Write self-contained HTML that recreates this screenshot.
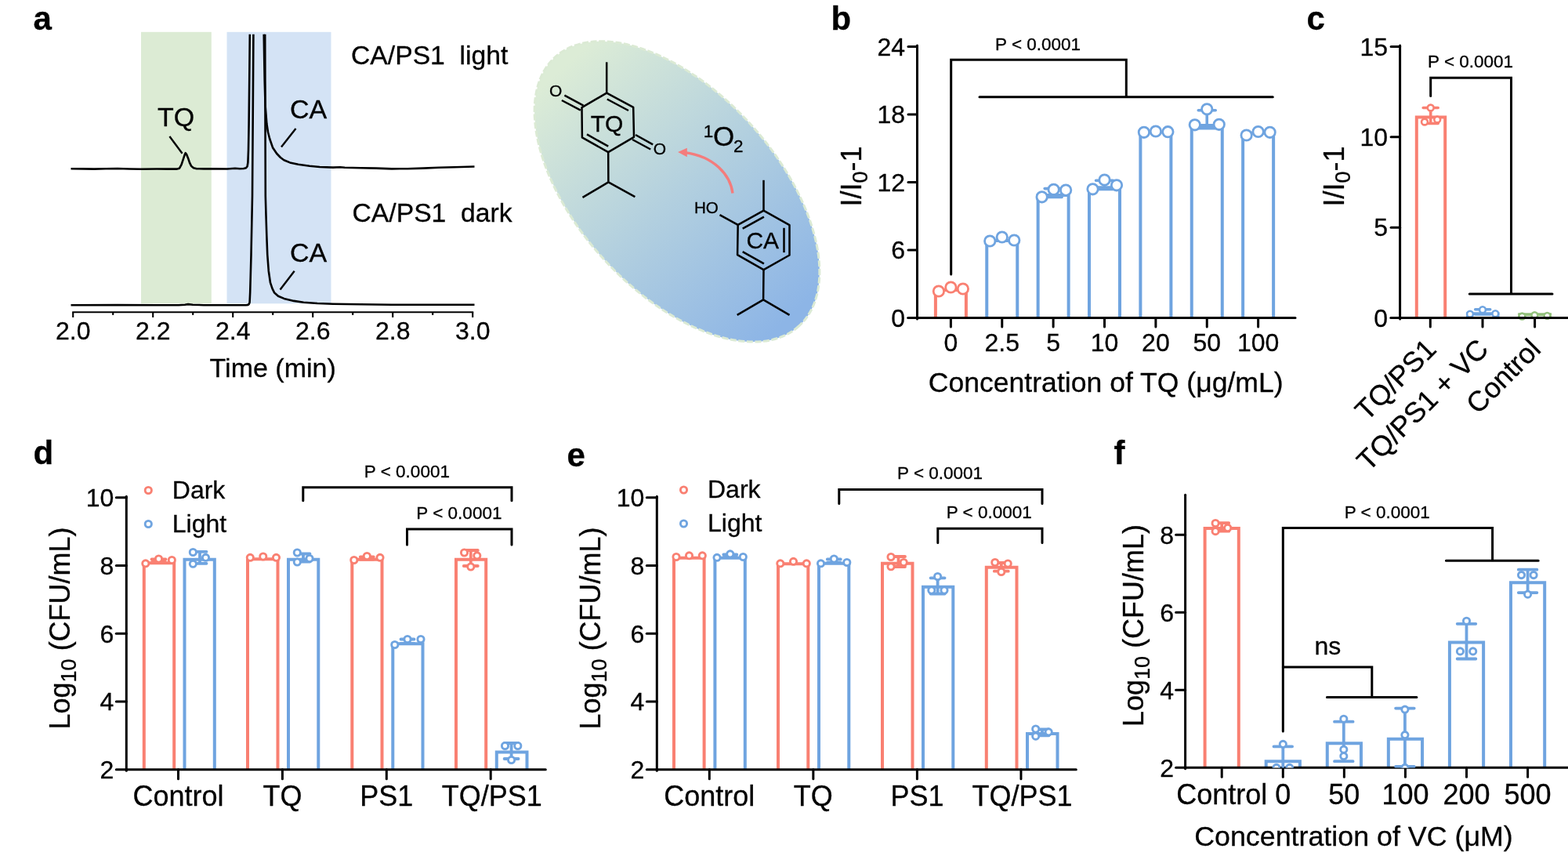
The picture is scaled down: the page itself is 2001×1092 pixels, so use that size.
<!DOCTYPE html>
<html lang="en"><head><meta charset="utf-8"><title>Figure</title>
<style>
html,body{margin:0;padding:0;background:#fff;}
body{width:2001px;height:1092px;overflow:hidden;}
svg{display:block;font-family:"Liberation Sans",Arial,Helvetica,sans-serif;}
text{fill:#000;stroke:#000;stroke-width:0.3px;}
</style></head>
<body>
<svg width="2001" height="1092" viewBox="0 0 2001 1092">
<defs>
<linearGradient id="eg" gradientUnits="userSpaceOnUse" x1="-215" y1="0" x2="215" y2="0">
<stop offset="0" stop-color="#dcecd6"/><stop offset="0.5" stop-color="#b3d0df"/><stop offset="1" stop-color="#8db5e6"/>
</linearGradient>
</defs>
<rect x="0" y="0" width="2001" height="1092" fill="#fff"/>
<g id="panel-a">
<rect x="180" y="40.8" width="89.8" height="346.5" fill="#dcebd4"/>
<rect x="289.5" y="40.8" width="133" height="346.5" fill="#d4e3f5"/>
<text x="42.5" y="38" font-size="42" text-anchor="start" font-weight="bold" >a</text>
<path d="M90.5 215.2 L105 215.4 L120 215.6 L135 215.2 L150 215 L165 215.5 L180 215.7 L200 215.5 L215 215.6 L226 215.6 L229 214.7 L231.5 210.2 L234 202.7 L235.8 197.2 L236.8 195.2 L238 196.7 L240 201.7 L242 207.7 L244 211.7 L247 214.2 L251 215.2 L260 215.4 L275 215.2 L290 215.5 L300 214.8 L306 215.2 L311 215 L314 214.2 L315.6 212.2 L316.4 207.2 L317 191.2 L317.6 158 L318.4 85 L318.8 43.7" stroke="#000" stroke-width="2.6" fill="none" stroke-linejoin="round" stroke-linecap="butt"/>
<path d="M336.7 43.7 L337.2 75 L337.7 103 L338.6 135 L340.4 158 L342 168.5 L344 176.5 L348 188.2 L353.2 196 L358 201 L362.4 204.2 L370 207.4 L380.7 209.7 L395 211.8 L408 213 L425 213.6 L434 213.2 L440 213.8 L460 214.2 L480 214.6 L500 215.4 L520 215.2 L540 214.6 L560 213.8 L580 213.2 L605.5 212.5" stroke="#000" stroke-width="2.6" fill="none" stroke-linejoin="round" stroke-linecap="butt"/>
<path d="M90.5 389.3 L150 389.1 L200 389.2 L228 389.2 L236 388.7 L240 388.1 L246 388.7 L260 389.2 L300 389.3 L314 389.2 L316.5 388.9 L317.8 387.9 L318.6 385.7 L319.2 372.7 L319.8 350.7 L320.5 325 L321.3 285 L322 250 L322.7 150 L323.4 43.7" stroke="#000" stroke-width="2.6" fill="none" stroke-linejoin="round" stroke-linecap="butt"/>
<path d="M338.2 43.7 L338.5 150 L338.8 250 L339.5 275 L340.3 300 L341.25 325 L342.8 345.7 L345 360.7 L347.5 368.2 L350 373.2 L355 377.7 L362.5 380.9 L375 383.9 L387.5 385.7 L405 387 L425 387.7 L460 388.3 L500 388.7 L550 388.8 L605.5 388.7" stroke="#000" stroke-width="2.6" fill="none" stroke-linejoin="round" stroke-linecap="butt"/>
<text x="201" y="161.3" font-size="34" text-anchor="start" font-weight="normal" >TQ</text>
<line x1="216.4" y1="174" x2="232.6" y2="195.7" stroke="#000" stroke-width="2.4" stroke-linecap="butt"/>
<text x="370" y="151" font-size="34" text-anchor="start" font-weight="normal" >CA</text>
<line x1="377.5" y1="164" x2="359" y2="187.5" stroke="#000" stroke-width="2.4" stroke-linecap="butt"/>
<text x="370" y="333.7" font-size="34" text-anchor="start" font-weight="normal" >CA</text>
<line x1="375.7" y1="345.7" x2="357.5" y2="369.5" stroke="#000" stroke-width="2.4" stroke-linecap="butt"/>
<text x="448" y="82" font-size="33.7" text-anchor="start" font-weight="normal" xml:space="preserve" style="white-space:pre">CA/PS1  light</text>
<text x="449.5" y="282.5" font-size="33.7" text-anchor="start" font-weight="normal" xml:space="preserve" style="white-space:pre">CA/PS1  dark</text>
<line x1="92.2" y1="398.3" x2="604.2" y2="398.3" stroke="#000" stroke-width="2.1" stroke-linecap="butt"/>
<line x1="93.2" y1="398.3" x2="93.2" y2="404.9" stroke="#000" stroke-width="2.1" stroke-linecap="butt"/>
<text x="93.2" y="433.4" font-size="32" text-anchor="middle" font-weight="normal" >2.0</text>
<line x1="144.2" y1="398.3" x2="144.2" y2="401.9" stroke="#000" stroke-width="2.1" stroke-linecap="butt"/>
<line x1="195.2" y1="398.3" x2="195.2" y2="404.9" stroke="#000" stroke-width="2.1" stroke-linecap="butt"/>
<text x="195.2" y="433.4" font-size="32" text-anchor="middle" font-weight="normal" >2.2</text>
<line x1="246.2" y1="398.3" x2="246.2" y2="401.9" stroke="#000" stroke-width="2.1" stroke-linecap="butt"/>
<line x1="297.2" y1="398.3" x2="297.2" y2="404.9" stroke="#000" stroke-width="2.1" stroke-linecap="butt"/>
<text x="297.2" y="433.4" font-size="32" text-anchor="middle" font-weight="normal" >2.4</text>
<line x1="348.2" y1="398.3" x2="348.2" y2="401.9" stroke="#000" stroke-width="2.1" stroke-linecap="butt"/>
<line x1="399.2" y1="398.3" x2="399.2" y2="404.9" stroke="#000" stroke-width="2.1" stroke-linecap="butt"/>
<text x="399.2" y="433.4" font-size="32" text-anchor="middle" font-weight="normal" >2.6</text>
<line x1="450.2" y1="398.3" x2="450.2" y2="401.9" stroke="#000" stroke-width="2.1" stroke-linecap="butt"/>
<line x1="501.2" y1="398.3" x2="501.2" y2="404.9" stroke="#000" stroke-width="2.1" stroke-linecap="butt"/>
<text x="501.2" y="433.4" font-size="32" text-anchor="middle" font-weight="normal" >2.8</text>
<line x1="552.2" y1="398.3" x2="552.2" y2="401.9" stroke="#000" stroke-width="2.1" stroke-linecap="butt"/>
<line x1="603.2" y1="398.3" x2="603.2" y2="404.9" stroke="#000" stroke-width="2.1" stroke-linecap="butt"/>
<text x="603.2" y="433.4" font-size="32" text-anchor="middle" font-weight="normal" >3.0</text>
<text x="348.2" y="480.9" font-size="34" text-anchor="middle" font-weight="normal" >Time (min)</text>
</g>
<g id="scheme">
<ellipse cx="0" cy="0" rx="231.6" ry="127.2" transform="translate(864 244.4) rotate(47.8)" fill="url(#eg)" stroke="#dbead4" stroke-width="3" stroke-dasharray="8 2.6"/>
<path d="M774.2 118.6 L808.2 136.9 L809 174.8 L776.2 194.1 L742.9 175.4 L742.5 137.1Z" stroke="#000" stroke-width="2.5" fill="none" stroke-linejoin="round"/>
<line x1="774.2" y1="118.6" x2="774.2" y2="79.3" stroke="#000" stroke-width="2.5" stroke-linecap="butt"/>
<line x1="774.8" y1="126.5" x2="802" y2="141" stroke="#000" stroke-width="2.5" stroke-linecap="butt"/>
<line x1="749" y1="171.4" x2="776.2" y2="186.7" stroke="#000" stroke-width="2.5" stroke-linecap="butt"/>
<path d="M776.2 194.1L776.4 232.4L743.5 251.9M776.4 232.4L810.4 251.1" stroke="#000" stroke-width="2.5" fill="none" stroke-linejoin="round"/>
<line x1="744.5" y1="134.7" x2="720.4" y2="121.6" stroke="#000" stroke-width="2.5" stroke-linecap="butt"/>
<line x1="740.9" y1="140.7" x2="716.9" y2="128" stroke="#000" stroke-width="2.5" stroke-linecap="butt"/>
<text x="709.1" y="123.2" font-size="21" text-anchor="middle" font-weight="normal" >O</text>
<line x1="811" y1="172" x2="833.2" y2="184.4" stroke="#000" stroke-width="2.5" stroke-linecap="butt"/>
<line x1="807" y1="178" x2="830.2" y2="190.5" stroke="#000" stroke-width="2.5" stroke-linecap="butt"/>
<text x="841.9" y="197.4" font-size="21" text-anchor="middle" font-weight="normal" >O</text>
<text x="774.5" y="168" font-size="30" text-anchor="middle" font-weight="normal" >TQ</text>
<path d="M935 246.5C932 223 911 199.3 874 194.6" stroke="#f47c7c" stroke-width="3.4" fill="none" stroke-linecap="butt"/>
<path d="M865.1 194.1L876.8 188.8L876.8 200.2Z" fill="#f47c7c"/>
<text x="897.8" y="175.2" font-size="22.5" text-anchor="start" font-weight="normal" >1</text>
<text x="910" y="186.3" font-size="35" text-anchor="start" font-weight="normal" >O</text>
<text x="936" y="194" font-size="22.5" text-anchor="start" font-weight="normal" >2</text>
<path d="M974.5 268.7 L1007.5 287.2 L1007.5 325.5 L974.5 344.2 L941.1 325.1 L941.7 286.8Z" stroke="#000" stroke-width="2.5" fill="none" stroke-linejoin="round"/>
<line x1="974.5" y1="268.7" x2="974.5" y2="229.8" stroke="#000" stroke-width="2.5" stroke-linecap="butt"/>
<line x1="947.7" y1="291.6" x2="974.9" y2="276.7" stroke="#000" stroke-width="2.5" stroke-linecap="butt"/>
<line x1="1000.5" y1="290.8" x2="1000.5" y2="322.1" stroke="#000" stroke-width="2.5" stroke-linecap="butt"/>
<line x1="947.7" y1="321.2" x2="974.9" y2="336.3" stroke="#000" stroke-width="2.5" stroke-linecap="butt"/>
<path d="M974.5 344.2L974.1 382.4L940.7 401.8M974.1 382.4L1007.5 401.8" stroke="#000" stroke-width="2.5" fill="none" stroke-linejoin="round"/>
<line x1="941.7" y1="286.8" x2="918.5" y2="274.1" stroke="#000" stroke-width="2.5" stroke-linecap="butt"/>
<text x="886" y="271.8" font-size="20.6" text-anchor="start" font-weight="normal" >HO</text>
<text x="973.3" y="316.6" font-size="30" text-anchor="middle" font-weight="normal" >CA</text>
</g>
<g id="panel-b">
<text x="1060.5" y="38" font-size="42" text-anchor="start" font-weight="bold" >b</text>
<path d="M1193.9 405.6V370H1232.9V405.6" stroke="#F98072" stroke-width="4" fill="none" stroke-linejoin="miter"/>
<circle cx="1197.9" cy="371.5" r="6.7" fill="#fff" stroke="#F98072" stroke-width="2.8"/>
<circle cx="1213.4" cy="366.5" r="6.7" fill="#fff" stroke="#F98072" stroke-width="2.8"/>
<circle cx="1228.9" cy="368.5" r="6.7" fill="#fff" stroke="#F98072" stroke-width="2.8"/>
<path d="M1259.27 405.6V307H1298.27V405.6" stroke="#6FA4E0" stroke-width="4" fill="none" stroke-linejoin="miter"/>
<circle cx="1263.27" cy="307.5" r="6.7" fill="#fff" stroke="#6FA4E0" stroke-width="2.8"/>
<circle cx="1278.77" cy="302.5" r="6.7" fill="#fff" stroke="#6FA4E0" stroke-width="2.8"/>
<circle cx="1294.27" cy="306.5" r="6.7" fill="#fff" stroke="#6FA4E0" stroke-width="2.8"/>
<path d="M1324.64 405.6V249H1363.64V405.6" stroke="#6FA4E0" stroke-width="4" fill="none" stroke-linejoin="miter"/>
<path d="M1333.14 240.6H1355.14M1333.14 251.5H1355.14M1344.14 240.6V251.5" stroke="#6FA4E0" stroke-width="3.6" fill="none" stroke-linecap="round"/>
<circle cx="1329.64" cy="251.3" r="6.7" fill="#fff" stroke="#6FA4E0" stroke-width="2.8"/>
<circle cx="1344.64" cy="241.8" r="6.7" fill="#fff" stroke="#6FA4E0" stroke-width="2.8"/>
<circle cx="1360.14" cy="242.6" r="6.7" fill="#fff" stroke="#6FA4E0" stroke-width="2.8"/>
<path d="M1390.01 405.6V239.3H1429.01V405.6" stroke="#6FA4E0" stroke-width="4" fill="none" stroke-linejoin="miter"/>
<path d="M1398.51 230.3H1420.51M1398.51 241.5H1420.51M1409.51 230.3V241.5" stroke="#6FA4E0" stroke-width="3.6" fill="none" stroke-linecap="round"/>
<circle cx="1394.51" cy="241.3" r="6.7" fill="#fff" stroke="#6FA4E0" stroke-width="2.8"/>
<circle cx="1409.51" cy="229.5" r="6.7" fill="#fff" stroke="#6FA4E0" stroke-width="2.8"/>
<circle cx="1425.01" cy="236.3" r="6.7" fill="#fff" stroke="#6FA4E0" stroke-width="2.8"/>
<path d="M1455.38 405.6V168.5H1494.38V405.6" stroke="#6FA4E0" stroke-width="4" fill="none" stroke-linejoin="miter"/>
<circle cx="1459.88" cy="168.8" r="6.7" fill="#fff" stroke="#6FA4E0" stroke-width="2.8"/>
<circle cx="1474.88" cy="167.5" r="6.7" fill="#fff" stroke="#6FA4E0" stroke-width="2.8"/>
<circle cx="1490.38" cy="168.2" r="6.7" fill="#fff" stroke="#6FA4E0" stroke-width="2.8"/>
<path d="M1520.75 405.6V160H1559.75V405.6" stroke="#6FA4E0" stroke-width="4" fill="none" stroke-linejoin="miter"/>
<path d="M1529.25 140.8H1551.25M1529.25 163.6H1551.25M1540.25 140.8V163.6" stroke="#6FA4E0" stroke-width="3.6" fill="none" stroke-linecap="round"/>
<circle cx="1524.75" cy="159.3" r="6.7" fill="#fff" stroke="#6FA4E0" stroke-width="2.8"/>
<circle cx="1540.25" cy="139.3" r="6.7" fill="#fff" stroke="#6FA4E0" stroke-width="2.8"/>
<circle cx="1555.75" cy="158.8" r="6.7" fill="#fff" stroke="#6FA4E0" stroke-width="2.8"/>
<path d="M1586.12 405.6V169.8H1625.12V405.6" stroke="#6FA4E0" stroke-width="4" fill="none" stroke-linejoin="miter"/>
<circle cx="1590.62" cy="172.5" r="6.7" fill="#fff" stroke="#6FA4E0" stroke-width="2.8"/>
<circle cx="1605.62" cy="168" r="6.7" fill="#fff" stroke="#6FA4E0" stroke-width="2.8"/>
<circle cx="1620.62" cy="168.8" r="6.7" fill="#fff" stroke="#6FA4E0" stroke-width="2.8"/>
<line x1="1170.5" y1="57.9" x2="1170.5" y2="407.1" stroke="#000" stroke-width="3" stroke-linecap="round"/>
<line x1="1158.7" y1="405.6" x2="1653" y2="405.6" stroke="#000" stroke-width="3" stroke-linecap="round"/>
<text x="1155" y="416.8" font-size="32" text-anchor="end" font-weight="normal" >0</text>
<line x1="1159" y1="319.05" x2="1170.5" y2="319.05" stroke="#000" stroke-width="3" stroke-linecap="round"/>
<text x="1155" y="330.25" font-size="32" text-anchor="end" font-weight="normal" >6</text>
<line x1="1159" y1="232.5" x2="1170.5" y2="232.5" stroke="#000" stroke-width="3" stroke-linecap="round"/>
<text x="1155" y="243.7" font-size="32" text-anchor="end" font-weight="normal" >12</text>
<line x1="1159" y1="145.95" x2="1170.5" y2="145.95" stroke="#000" stroke-width="3" stroke-linecap="round"/>
<text x="1155" y="157.15" font-size="32" text-anchor="end" font-weight="normal" >18</text>
<line x1="1159" y1="59.4" x2="1170.5" y2="59.4" stroke="#000" stroke-width="3" stroke-linecap="round"/>
<text x="1155" y="70.6" font-size="32" text-anchor="end" font-weight="normal" >24</text>
<line x1="1213.4" y1="405.6" x2="1213.4" y2="417.1" stroke="#000" stroke-width="3" stroke-linecap="round"/>
<text x="1213.4" y="448" font-size="32" text-anchor="middle" font-weight="normal" >0</text>
<line x1="1278.77" y1="405.6" x2="1278.77" y2="417.1" stroke="#000" stroke-width="3" stroke-linecap="round"/>
<text x="1278.77" y="448" font-size="32" text-anchor="middle" font-weight="normal" >2.5</text>
<line x1="1344.14" y1="405.6" x2="1344.14" y2="417.1" stroke="#000" stroke-width="3" stroke-linecap="round"/>
<text x="1344.14" y="448" font-size="32" text-anchor="middle" font-weight="normal" >5</text>
<line x1="1409.51" y1="405.6" x2="1409.51" y2="417.1" stroke="#000" stroke-width="3" stroke-linecap="round"/>
<text x="1409.51" y="448" font-size="32" text-anchor="middle" font-weight="normal" >10</text>
<line x1="1474.88" y1="405.6" x2="1474.88" y2="417.1" stroke="#000" stroke-width="3" stroke-linecap="round"/>
<text x="1474.88" y="448" font-size="32" text-anchor="middle" font-weight="normal" >20</text>
<line x1="1540.25" y1="405.6" x2="1540.25" y2="417.1" stroke="#000" stroke-width="3" stroke-linecap="round"/>
<text x="1540.25" y="448" font-size="32" text-anchor="middle" font-weight="normal" >50</text>
<line x1="1605.62" y1="405.6" x2="1605.62" y2="417.1" stroke="#000" stroke-width="3" stroke-linecap="round"/>
<text x="1605.62" y="448" font-size="32" text-anchor="middle" font-weight="normal" >100</text>
<text x="1411.2" y="499.8" font-size="35.6" text-anchor="middle" font-weight="normal" >Concentration of TQ (μg/mL)</text>
<text transform="translate(1099 263.6) rotate(-90)" font-size="36">I/I<tspan font-size="27" dy="8">0</tspan><tspan dy="-8">-1</tspan></text>
<path d="M1213.7 350V76.3H1437.3V123.8M1250 123.8H1624.3" stroke="#000" stroke-width="3" fill="none" stroke-linecap="round" stroke-linejoin="miter"/>
<text x="1324.6" y="64.2" font-size="22.5" text-anchor="middle" font-weight="normal" >P &lt; 0.0001</text>
</g>
<g id="panel-c">
<text x="1667.5" y="38" font-size="42" text-anchor="start" font-weight="bold" >c</text>
<path d="M1807.8 405.6V149.5H1844.2V405.6" stroke="#F98072" stroke-width="4" fill="none" stroke-linejoin="miter"/>
<path d="M1816.2 137.5H1835.2M1816.2 157.5H1835.2M1825.7 137.5V157.5" stroke="#F98072" stroke-width="3.6" fill="none" stroke-linecap="round"/>
<circle cx="1825.7" cy="137.5" r="3.9" fill="#fff" stroke="#F98072" stroke-width="2.6"/>
<circle cx="1818" cy="155.5" r="3.9" fill="#fff" stroke="#F98072" stroke-width="2.6"/>
<circle cx="1834.2" cy="152.5" r="3.9" fill="#fff" stroke="#F98072" stroke-width="2.6"/>
<path d="M1873 405.6V400.3H1911.5V405.6" stroke="#6FA4E0" stroke-width="4" fill="none" stroke-linejoin="miter"/>
<path d="M1882.7 394.8H1901.7M1882.7 401H1901.7M1892.2 394.8V401" stroke="#6FA4E0" stroke-width="3.6" fill="none" stroke-linecap="round"/>
<circle cx="1876" cy="400.7" r="3.9" fill="#fff" stroke="#6FA4E0" stroke-width="2.6"/>
<circle cx="1892" cy="395.2" r="3.9" fill="#fff" stroke="#6FA4E0" stroke-width="2.6"/>
<circle cx="1908.3" cy="400.2" r="3.9" fill="#fff" stroke="#6FA4E0" stroke-width="2.6"/>
<path d="M1939.2 405.6V401.3H1978V405.6" stroke="#93C17C" stroke-width="4" fill="none" stroke-linejoin="miter"/>
<circle cx="1942.4" cy="403.5" r="3.9" fill="#fff" stroke="#93C17C" stroke-width="2.6"/>
<circle cx="1958.4" cy="402.1" r="3.9" fill="#fff" stroke="#93C17C" stroke-width="2.6"/>
<circle cx="1974.5" cy="402.9" r="3.9" fill="#fff" stroke="#93C17C" stroke-width="2.6"/>
<line x1="1786.6" y1="57.9" x2="1786.6" y2="407.1" stroke="#000" stroke-width="3" stroke-linecap="round"/>
<line x1="1774.8" y1="405.6" x2="2003" y2="405.6" stroke="#000" stroke-width="3" stroke-linecap="round"/>
<text x="1771" y="416.8" font-size="32" text-anchor="end" font-weight="normal" >0</text>
<line x1="1775.1" y1="290.2" x2="1786.6" y2="290.2" stroke="#000" stroke-width="3" stroke-linecap="round"/>
<text x="1771" y="301.4" font-size="32" text-anchor="end" font-weight="normal" >5</text>
<line x1="1775.1" y1="174.8" x2="1786.6" y2="174.8" stroke="#000" stroke-width="3" stroke-linecap="round"/>
<text x="1771" y="186" font-size="32" text-anchor="end" font-weight="normal" >10</text>
<line x1="1775.1" y1="59.4" x2="1786.6" y2="59.4" stroke="#000" stroke-width="3" stroke-linecap="round"/>
<text x="1771" y="70.6" font-size="32" text-anchor="end" font-weight="normal" >15</text>
<line x1="1825.3" y1="405.6" x2="1825.3" y2="417.1" stroke="#000" stroke-width="3" stroke-linecap="round"/>
<line x1="1892" y1="405.6" x2="1892" y2="417.1" stroke="#000" stroke-width="3" stroke-linecap="round"/>
<line x1="1958.6" y1="405.6" x2="1958.6" y2="417.1" stroke="#000" stroke-width="3" stroke-linecap="round"/>
<text transform="translate(1715 263.6) rotate(-90)" font-size="36">I/I<tspan font-size="27" dy="8">0</tspan><tspan dy="-8">-1</tspan></text>
<path d="M1825.7 122.5V99.3H1928.5V375M1875.3 375H1981" stroke="#000" stroke-width="3" fill="none" stroke-linecap="round" stroke-linejoin="miter"/>
<text x="1876.6" y="86.2" font-size="22.5" text-anchor="middle" font-weight="normal" >P &lt; 0.0001</text>
<text transform="translate(1834.9 447.6) rotate(-45)" font-size="36" text-anchor="end" >TQ/PS1</text>
<text transform="translate(1901.5 447.6) rotate(-45)" font-size="36" text-anchor="end" >TQ/PS1 + VC</text>
<text transform="translate(1968.1 447.6) rotate(-45)" font-size="36" text-anchor="end" >Control</text>
</g>
<g id="panel-d">
<text x="42.5" y="592.3" font-size="42" text-anchor="start" font-weight="bold" >d</text>
<path d="M183.8 981.8V718.3H222.2V981.8" stroke="#F98072" stroke-width="4" fill="none" stroke-linejoin="miter"/>
<path d="M193.5 713.5H211.5M193.5 717.5H211.5M202.5 713.5V717.5" stroke="#F98072" stroke-width="3.8" fill="none" stroke-linecap="round"/>
<circle cx="185.8" cy="718.8" r="4.1" fill="#fff" stroke="#F98072" stroke-width="2.9"/>
<circle cx="202.5" cy="713" r="4.1" fill="#fff" stroke="#F98072" stroke-width="2.9"/>
<circle cx="219.3" cy="714.5" r="4.1" fill="#fff" stroke="#F98072" stroke-width="2.9"/>
<path d="M235.5 981.8V713.8H273.8V981.8" stroke="#6FA4E0" stroke-width="4" fill="none" stroke-linejoin="miter"/>
<path d="M246.5 703.8H263.5M246.5 718.8H263.5M255 703.8V718.8" stroke="#6FA4E0" stroke-width="3.8" fill="none" stroke-linecap="round"/>
<circle cx="246.3" cy="704.5" r="4.1" fill="#fff" stroke="#6FA4E0" stroke-width="2.9"/>
<circle cx="246.3" cy="719.3" r="4.1" fill="#fff" stroke="#6FA4E0" stroke-width="2.9"/>
<circle cx="262.5" cy="711.3" r="4.1" fill="#fff" stroke="#6FA4E0" stroke-width="2.9"/>
<path d="M316 981.8V713.3H354.5V981.8" stroke="#F98072" stroke-width="4" fill="none" stroke-linejoin="miter"/>
<circle cx="319.3" cy="711.3" r="4.1" fill="#fff" stroke="#F98072" stroke-width="2.9"/>
<circle cx="335.8" cy="710" r="4.1" fill="#fff" stroke="#F98072" stroke-width="2.9"/>
<circle cx="352.5" cy="711.3" r="4.1" fill="#fff" stroke="#F98072" stroke-width="2.9"/>
<path d="M368 981.8V713.8H406.3V981.8" stroke="#6FA4E0" stroke-width="4" fill="none" stroke-linejoin="miter"/>
<path d="M378.5 706.5H395.5M378.5 716.5H395.5M387 706.5V716.5" stroke="#6FA4E0" stroke-width="3.8" fill="none" stroke-linecap="round"/>
<circle cx="379.3" cy="705" r="4.1" fill="#fff" stroke="#6FA4E0" stroke-width="2.9"/>
<circle cx="379.3" cy="717" r="4.1" fill="#fff" stroke="#6FA4E0" stroke-width="2.9"/>
<circle cx="395" cy="712.5" r="4.1" fill="#fff" stroke="#6FA4E0" stroke-width="2.9"/>
<path d="M449.3 981.8V713.8H487.5V981.8" stroke="#F98072" stroke-width="4" fill="none" stroke-linejoin="miter"/>
<path d="M459.8 710.5H476.8M459.8 713.5H476.8M468.3 710.5V713.5" stroke="#F98072" stroke-width="3.8" fill="none" stroke-linecap="round"/>
<circle cx="451.8" cy="714.5" r="4.1" fill="#fff" stroke="#F98072" stroke-width="2.9"/>
<circle cx="468.3" cy="709.5" r="4.1" fill="#fff" stroke="#F98072" stroke-width="2.9"/>
<circle cx="485" cy="711.3" r="4.1" fill="#fff" stroke="#F98072" stroke-width="2.9"/>
<path d="M501.3 981.8V821.3H539.5V981.8" stroke="#6FA4E0" stroke-width="4" fill="none" stroke-linejoin="miter"/>
<path d="M511.5 815.5H528.5M511.5 821H528.5M520 815.5V821" stroke="#6FA4E0" stroke-width="3.8" fill="none" stroke-linecap="round"/>
<circle cx="503.8" cy="822.5" r="4.1" fill="#fff" stroke="#6FA4E0" stroke-width="2.9"/>
<circle cx="520" cy="815.5" r="4.1" fill="#fff" stroke="#6FA4E0" stroke-width="2.9"/>
<circle cx="537" cy="815.5" r="4.1" fill="#fff" stroke="#6FA4E0" stroke-width="2.9"/>
<path d="M582 981.8V713.8H620.2V981.8" stroke="#F98072" stroke-width="4" fill="none" stroke-linejoin="miter"/>
<path d="M591.8 702H609.8M591.8 722H609.8M600.8 702V722" stroke="#F98072" stroke-width="3.8" fill="none" stroke-linecap="round"/>
<circle cx="592.5" cy="705" r="4.1" fill="#fff" stroke="#F98072" stroke-width="2.9"/>
<circle cx="608.8" cy="708.8" r="4.1" fill="#fff" stroke="#F98072" stroke-width="2.9"/>
<circle cx="600.8" cy="723" r="4.1" fill="#fff" stroke="#F98072" stroke-width="2.9"/>
<path d="M633.8 981.8V959.4H672.5V981.8" stroke="#6FA4E0" stroke-width="4" fill="none" stroke-linejoin="miter"/>
<path d="M643.6 948H661.6M643.6 968H661.6M652.6 948V968" stroke="#6FA4E0" stroke-width="3.8" fill="none" stroke-linecap="round"/>
<circle cx="644.5" cy="951.5" r="4.1" fill="#fff" stroke="#6FA4E0" stroke-width="2.9"/>
<circle cx="660.8" cy="951.5" r="4.1" fill="#fff" stroke="#6FA4E0" stroke-width="2.9"/>
<circle cx="652.6" cy="969.5" r="4.1" fill="#fff" stroke="#6FA4E0" stroke-width="2.9"/>
<line x1="161.3" y1="633.3" x2="161.3" y2="983.3" stroke="#000" stroke-width="3" stroke-linecap="round"/>
<line x1="148.3" y1="981.8" x2="696.3" y2="981.8" stroke="#000" stroke-width="3" stroke-linecap="round"/>
<text x="145.3" y="993" font-size="32" text-anchor="end" font-weight="normal" >2</text>
<line x1="148.3" y1="895.06" x2="161.3" y2="895.06" stroke="#000" stroke-width="3" stroke-linecap="round"/>
<text x="145.3" y="906.26" font-size="32" text-anchor="end" font-weight="normal" >4</text>
<line x1="148.3" y1="808.32" x2="161.3" y2="808.32" stroke="#000" stroke-width="3" stroke-linecap="round"/>
<text x="145.3" y="819.52" font-size="32" text-anchor="end" font-weight="normal" >6</text>
<line x1="148.3" y1="721.58" x2="161.3" y2="721.58" stroke="#000" stroke-width="3" stroke-linecap="round"/>
<text x="145.3" y="732.78" font-size="32" text-anchor="end" font-weight="normal" >8</text>
<line x1="148.3" y1="634.84" x2="161.3" y2="634.84" stroke="#000" stroke-width="3" stroke-linecap="round"/>
<text x="145.3" y="646.04" font-size="32" text-anchor="end" font-weight="normal" >10</text>
<line x1="227.5" y1="981.8" x2="227.5" y2="993.8" stroke="#000" stroke-width="3" stroke-linecap="round"/>
<text x="227.5" y="1027.8" font-size="36" text-anchor="middle" font-weight="normal" >Control</text>
<line x1="360.4" y1="981.8" x2="360.4" y2="993.8" stroke="#000" stroke-width="3" stroke-linecap="round"/>
<text x="360.4" y="1027.8" font-size="36" text-anchor="middle" font-weight="normal" >TQ</text>
<line x1="493.3" y1="981.8" x2="493.3" y2="993.8" stroke="#000" stroke-width="3" stroke-linecap="round"/>
<text x="493.3" y="1027.8" font-size="36" text-anchor="middle" font-weight="normal" >PS1</text>
<line x1="626.2" y1="981.8" x2="626.2" y2="993.8" stroke="#000" stroke-width="3" stroke-linecap="round"/>
<text x="627.7" y="1027.8" font-size="36" text-anchor="middle" font-weight="normal" >TQ/PS1</text>
<text transform="translate(89.3 930.5) rotate(-90)" font-size="36">Log<tspan font-size="27" dy="8">10</tspan><tspan dy="-8"> (CFU/mL)</tspan></text>
<circle cx="189.3" cy="625.5" r="4.1" fill="#fff" stroke="#F98072" stroke-width="2.9"/>
<circle cx="189.3" cy="668.5" r="4.1" fill="#fff" stroke="#6FA4E0" stroke-width="2.9"/>
<text x="219.8" y="635.8" font-size="32" text-anchor="start" font-weight="normal" >Dark</text>
<text x="219.8" y="678.7" font-size="32" text-anchor="start" font-weight="normal" >Light</text>
<path d="M386.8 638.8V621.8H653V638.8" stroke="#000" stroke-width="3" fill="none" stroke-linecap="round"/>
<path d="M519.5 695V675H653V695" stroke="#000" stroke-width="3" fill="none" stroke-linecap="round"/>
<text x="519.4" y="608.5" font-size="22.5" text-anchor="middle" font-weight="normal" >P &lt; 0.0001</text>
<text x="585.9" y="662" font-size="22.5" text-anchor="middle" font-weight="normal" >P &lt; 0.0001</text>
</g>
<g id="panel-e">
<text x="723.5" y="595.2" font-size="42" text-anchor="start" font-weight="bold" >e</text>
<path d="M860 981.8V711.8H898.6V981.8" stroke="#F98072" stroke-width="4" fill="none" stroke-linejoin="miter"/>
<circle cx="863" cy="710.5" r="4.1" fill="#fff" stroke="#F98072" stroke-width="2.9"/>
<circle cx="879.5" cy="708.8" r="4.1" fill="#fff" stroke="#F98072" stroke-width="2.9"/>
<circle cx="896.3" cy="708.8" r="4.1" fill="#fff" stroke="#F98072" stroke-width="2.9"/>
<path d="M912.4 981.8V711.8H950.8V981.8" stroke="#6FA4E0" stroke-width="4" fill="none" stroke-linejoin="miter"/>
<path d="M923.3 707.5H940.3M923.3 711H940.3M931.8 707.5V711" stroke="#6FA4E0" stroke-width="3.8" fill="none" stroke-linecap="round"/>
<circle cx="915" cy="711.3" r="4.1" fill="#fff" stroke="#6FA4E0" stroke-width="2.9"/>
<circle cx="931.8" cy="706.8" r="4.1" fill="#fff" stroke="#6FA4E0" stroke-width="2.9"/>
<circle cx="948.3" cy="710.5" r="4.1" fill="#fff" stroke="#6FA4E0" stroke-width="2.9"/>
<path d="M993 981.8V719.3H1031.3V981.8" stroke="#F98072" stroke-width="4" fill="none" stroke-linejoin="miter"/>
<circle cx="995.8" cy="718.8" r="4.1" fill="#fff" stroke="#F98072" stroke-width="2.9"/>
<circle cx="1012.5" cy="716.3" r="4.1" fill="#fff" stroke="#F98072" stroke-width="2.9"/>
<circle cx="1029.3" cy="718.8" r="4.1" fill="#fff" stroke="#F98072" stroke-width="2.9"/>
<path d="M1045 981.8V718.8H1083.3V981.8" stroke="#6FA4E0" stroke-width="4" fill="none" stroke-linejoin="miter"/>
<path d="M1055.8 713.5H1072.8M1055.8 718H1072.8M1064.3 713.5V718" stroke="#6FA4E0" stroke-width="3.8" fill="none" stroke-linecap="round"/>
<circle cx="1047.5" cy="718.8" r="4.1" fill="#fff" stroke="#6FA4E0" stroke-width="2.9"/>
<circle cx="1064.3" cy="713" r="4.1" fill="#fff" stroke="#6FA4E0" stroke-width="2.9"/>
<circle cx="1080.8" cy="717.5" r="4.1" fill="#fff" stroke="#6FA4E0" stroke-width="2.9"/>
<path d="M1126 981.8V718.8H1164.5V981.8" stroke="#F98072" stroke-width="4" fill="none" stroke-linejoin="miter"/>
<path d="M1138 710H1155M1138 723H1155M1146.5 710V723" stroke="#F98072" stroke-width="3.8" fill="none" stroke-linecap="round"/>
<circle cx="1137" cy="710.5" r="4.1" fill="#fff" stroke="#F98072" stroke-width="2.9"/>
<circle cx="1137" cy="722.8" r="4.1" fill="#fff" stroke="#F98072" stroke-width="2.9"/>
<circle cx="1153.2" cy="717.5" r="4.1" fill="#fff" stroke="#F98072" stroke-width="2.9"/>
<path d="M1178 981.8V748.8H1216.3V981.8" stroke="#6FA4E0" stroke-width="4" fill="none" stroke-linejoin="miter"/>
<path d="M1187.6 737.3H1205.6M1187.6 757.5H1205.6M1196.6 737.3V757.5" stroke="#6FA4E0" stroke-width="3.8" fill="none" stroke-linecap="round"/>
<circle cx="1196.6" cy="735.5" r="4.1" fill="#fff" stroke="#6FA4E0" stroke-width="2.9"/>
<circle cx="1188.8" cy="753" r="4.1" fill="#fff" stroke="#6FA4E0" stroke-width="2.9"/>
<circle cx="1205" cy="753" r="4.1" fill="#fff" stroke="#6FA4E0" stroke-width="2.9"/>
<path d="M1258.8 981.8V723.8H1297.5V981.8" stroke="#F98072" stroke-width="4" fill="none" stroke-linejoin="miter"/>
<path d="M1268.8 718H1286.8M1268.8 728.7H1286.8M1277.8 718V728.7" stroke="#F98072" stroke-width="3.8" fill="none" stroke-linecap="round"/>
<circle cx="1269.8" cy="717.5" r="4.1" fill="#fff" stroke="#F98072" stroke-width="2.9"/>
<circle cx="1286.2" cy="719" r="4.1" fill="#fff" stroke="#F98072" stroke-width="2.9"/>
<circle cx="1277.8" cy="729.5" r="4.1" fill="#fff" stroke="#F98072" stroke-width="2.9"/>
<path d="M1311 981.8V936H1349.5V981.8" stroke="#6FA4E0" stroke-width="4" fill="none" stroke-linejoin="miter"/>
<path d="M1321.5 930.5H1338.5M1321.5 938.3H1338.5M1330 930.5V938.3" stroke="#6FA4E0" stroke-width="3.8" fill="none" stroke-linecap="round"/>
<circle cx="1321.7" cy="930" r="4.1" fill="#fff" stroke="#6FA4E0" stroke-width="2.9"/>
<circle cx="1321.7" cy="939.2" r="4.1" fill="#fff" stroke="#6FA4E0" stroke-width="2.9"/>
<circle cx="1338.2" cy="933.8" r="4.1" fill="#fff" stroke="#6FA4E0" stroke-width="2.9"/>
<line x1="838.3" y1="633.3" x2="838.3" y2="983.3" stroke="#000" stroke-width="3" stroke-linecap="round"/>
<line x1="825.3" y1="981.8" x2="1373.3" y2="981.8" stroke="#000" stroke-width="3" stroke-linecap="round"/>
<text x="822.3" y="993" font-size="32" text-anchor="end" font-weight="normal" >2</text>
<line x1="825.3" y1="895.06" x2="838.3" y2="895.06" stroke="#000" stroke-width="3" stroke-linecap="round"/>
<text x="822.3" y="906.26" font-size="32" text-anchor="end" font-weight="normal" >4</text>
<line x1="825.3" y1="808.32" x2="838.3" y2="808.32" stroke="#000" stroke-width="3" stroke-linecap="round"/>
<text x="822.3" y="819.52" font-size="32" text-anchor="end" font-weight="normal" >6</text>
<line x1="825.3" y1="721.58" x2="838.3" y2="721.58" stroke="#000" stroke-width="3" stroke-linecap="round"/>
<text x="822.3" y="732.78" font-size="32" text-anchor="end" font-weight="normal" >8</text>
<line x1="825.3" y1="634.84" x2="838.3" y2="634.84" stroke="#000" stroke-width="3" stroke-linecap="round"/>
<text x="822.3" y="646.04" font-size="32" text-anchor="end" font-weight="normal" >10</text>
<line x1="905.3" y1="981.8" x2="905.3" y2="993.8" stroke="#000" stroke-width="3" stroke-linecap="round"/>
<text x="905.3" y="1027.8" font-size="36" text-anchor="middle" font-weight="normal" >Control</text>
<line x1="1037.85" y1="981.8" x2="1037.85" y2="993.8" stroke="#000" stroke-width="3" stroke-linecap="round"/>
<text x="1037.85" y="1027.8" font-size="36" text-anchor="middle" font-weight="normal" >TQ</text>
<line x1="1170.4" y1="981.8" x2="1170.4" y2="993.8" stroke="#000" stroke-width="3" stroke-linecap="round"/>
<text x="1170.4" y="1027.8" font-size="36" text-anchor="middle" font-weight="normal" >PS1</text>
<line x1="1302.95" y1="981.8" x2="1302.95" y2="993.8" stroke="#000" stroke-width="3" stroke-linecap="round"/>
<text x="1304.45" y="1027.8" font-size="36" text-anchor="middle" font-weight="normal" >TQ/PS1</text>
<text transform="translate(766.3 930.5) rotate(-90)" font-size="36">Log<tspan font-size="27" dy="8">10</tspan><tspan dy="-8"> (CFU/mL)</tspan></text>
<circle cx="872.5" cy="625" r="4.1" fill="#fff" stroke="#F98072" stroke-width="2.9"/>
<circle cx="872.5" cy="668" r="4.1" fill="#fff" stroke="#6FA4E0" stroke-width="2.9"/>
<text x="903" y="635.3" font-size="32" text-anchor="start" font-weight="normal" >Dark</text>
<text x="903" y="678.2" font-size="32" text-anchor="start" font-weight="normal" >Light</text>
<path d="M1070.8 642.5V624.5H1330V642.5" stroke="#000" stroke-width="3" fill="none" stroke-linecap="round"/>
<path d="M1196.8 692.5V674.3H1330V692.5" stroke="#000" stroke-width="3" fill="none" stroke-linecap="round"/>
<text x="1199.6" y="611" font-size="22.5" text-anchor="middle" font-weight="normal" >P &lt; 0.0001</text>
<text x="1262.3" y="660.8" font-size="22.5" text-anchor="middle" font-weight="normal" >P &lt; 0.0001</text>
</g>
<g id="panel-f">
<text x="1421.5" y="592.3" font-size="42" text-anchor="start" font-weight="bold" >f</text>
<path d="M1537.6 979.3V674.1H1580.8V979.3" stroke="#F98072" stroke-width="4" fill="none" stroke-linejoin="miter"/>
<path d="M1615.68 979.3V971.2H1658.88V979.3" stroke="#6FA4E0" stroke-width="4" fill="none" stroke-linejoin="miter"/>
<path d="M1693.76 979.3V948.2H1736.96V979.3" stroke="#6FA4E0" stroke-width="4" fill="none" stroke-linejoin="miter"/>
<path d="M1771.84 979.3V942.7H1815.04V979.3" stroke="#6FA4E0" stroke-width="4" fill="none" stroke-linejoin="miter"/>
<path d="M1849.92 979.3V819.6H1893.12V979.3" stroke="#6FA4E0" stroke-width="4" fill="none" stroke-linejoin="miter"/>
<path d="M1928 979.3V743.2H1971.2V979.3" stroke="#6FA4E0" stroke-width="4" fill="none" stroke-linejoin="miter"/>
<line x1="1512.6" y1="631.2" x2="1512.6" y2="980.8" stroke="#000" stroke-width="3" stroke-linecap="round"/>
<line x1="1500.6" y1="979.3" x2="2003" y2="979.3" stroke="#000" stroke-width="3" stroke-linecap="round"/>
<text x="1498.1" y="990.5" font-size="32" text-anchor="end" font-weight="normal" >2</text>
<line x1="1500.6" y1="880.3" x2="1512.6" y2="880.3" stroke="#000" stroke-width="3" stroke-linecap="round"/>
<text x="1498.1" y="891.5" font-size="32" text-anchor="end" font-weight="normal" >4</text>
<line x1="1500.6" y1="781.3" x2="1512.6" y2="781.3" stroke="#000" stroke-width="3" stroke-linecap="round"/>
<text x="1498.1" y="792.5" font-size="32" text-anchor="end" font-weight="normal" >6</text>
<line x1="1500.6" y1="682.3" x2="1512.6" y2="682.3" stroke="#000" stroke-width="3" stroke-linecap="round"/>
<text x="1498.1" y="693.5" font-size="32" text-anchor="end" font-weight="normal" >8</text>
<line x1="1559.2" y1="979.3" x2="1559.2" y2="991.3" stroke="#000" stroke-width="3" stroke-linecap="round"/>
<text x="1559.2" y="1026.2" font-size="36" text-anchor="middle" font-weight="normal" >Control</text>
<line x1="1637.28" y1="979.3" x2="1637.28" y2="991.3" stroke="#000" stroke-width="3" stroke-linecap="round"/>
<text x="1637.28" y="1026.2" font-size="36" text-anchor="middle" font-weight="normal" >0</text>
<line x1="1715.36" y1="979.3" x2="1715.36" y2="991.3" stroke="#000" stroke-width="3" stroke-linecap="round"/>
<text x="1715.36" y="1026.2" font-size="36" text-anchor="middle" font-weight="normal" >50</text>
<line x1="1793.44" y1="979.3" x2="1793.44" y2="991.3" stroke="#000" stroke-width="3" stroke-linecap="round"/>
<text x="1793.44" y="1026.2" font-size="36" text-anchor="middle" font-weight="normal" >100</text>
<line x1="1871.52" y1="979.3" x2="1871.52" y2="991.3" stroke="#000" stroke-width="3" stroke-linecap="round"/>
<text x="1871.52" y="1026.2" font-size="36" text-anchor="middle" font-weight="normal" >200</text>
<line x1="1949.6" y1="979.3" x2="1949.6" y2="991.3" stroke="#000" stroke-width="3" stroke-linecap="round"/>
<text x="1949.6" y="1026.2" font-size="36" text-anchor="middle" font-weight="normal" >500</text>
<clipPath id="fclip"><rect x="1500" y="600" width="501" height="379.6"/></clipPath>
<g clip-path="url(#fclip)">
<path d="M1550.2 667.2H1568.2M1550.2 677.7H1568.2M1559.2 667.2V677.7" stroke="#F98072" stroke-width="3.8" fill="none" stroke-linecap="round"/>
<circle cx="1551.1" cy="667.5" r="4.1" fill="#fff" stroke="#F98072" stroke-width="2.9"/>
<circle cx="1551.1" cy="677.7" r="4.1" fill="#fff" stroke="#F98072" stroke-width="2.9"/>
<circle cx="1566.7" cy="673.5" r="4.1" fill="#fff" stroke="#F98072" stroke-width="2.9"/>
<path d="M1625.5 952.3H1649.1M1625.5 990H1649.1M1637.3 952.3V990" stroke="#6FA4E0" stroke-width="3.8" fill="none" stroke-linecap="round"/>
<circle cx="1637.3" cy="949.3" r="4.1" fill="#fff" stroke="#6FA4E0" stroke-width="2.9"/>
<circle cx="1628.9" cy="979.3" r="4.1" fill="#fff" stroke="#6FA4E0" stroke-width="2.9"/>
<circle cx="1645.7" cy="979.3" r="4.1" fill="#fff" stroke="#6FA4E0" stroke-width="2.9"/>
<path d="M1703 920.7H1726.6M1703 971.2H1726.6M1714.8 920.7V971.2" stroke="#6FA4E0" stroke-width="3.8" fill="none" stroke-linecap="round"/>
<circle cx="1714.8" cy="917.2" r="4.1" fill="#fff" stroke="#6FA4E0" stroke-width="2.9"/>
<circle cx="1714.8" cy="956.2" r="4.1" fill="#fff" stroke="#6FA4E0" stroke-width="2.9"/>
<circle cx="1714.8" cy="964.6" r="4.1" fill="#fff" stroke="#6FA4E0" stroke-width="2.9"/>
<path d="M1781.1 903.6H1804.7M1781.1 978H1804.7M1792.9 903.6V978" stroke="#6FA4E0" stroke-width="3.8" fill="none" stroke-linecap="round"/>
<circle cx="1792.9" cy="905.1" r="4.1" fill="#fff" stroke="#6FA4E0" stroke-width="2.9"/>
<circle cx="1792.9" cy="937.6" r="4.1" fill="#fff" stroke="#6FA4E0" stroke-width="2.9"/>
<circle cx="1792.9" cy="979.3" r="4.1" fill="#fff" stroke="#6FA4E0" stroke-width="2.9"/>
<path d="M1859.7 795.8H1883.3M1859.7 840.5H1883.3M1871.5 795.8V840.5" stroke="#6FA4E0" stroke-width="3.8" fill="none" stroke-linecap="round"/>
<circle cx="1871.5" cy="792.2" r="4.1" fill="#fff" stroke="#6FA4E0" stroke-width="2.9"/>
<circle cx="1863.4" cy="830.9" r="4.1" fill="#fff" stroke="#6FA4E0" stroke-width="2.9"/>
<circle cx="1879.7" cy="830.9" r="4.1" fill="#fff" stroke="#6FA4E0" stroke-width="2.9"/>
<path d="M1937.8 726.7H1961.4M1937.8 756.1H1961.4M1949.6 726.7V756.1" stroke="#6FA4E0" stroke-width="3.8" fill="none" stroke-linecap="round"/>
<circle cx="1941.5" cy="733.6" r="4.1" fill="#fff" stroke="#6FA4E0" stroke-width="2.9"/>
<circle cx="1957.1" cy="733.6" r="4.1" fill="#fff" stroke="#6FA4E0" stroke-width="2.9"/>
<circle cx="1949.6" cy="758.2" r="4.1" fill="#fff" stroke="#6FA4E0" stroke-width="2.9"/>
</g>
<text x="1727.5" y="1078.6" font-size="35.8" text-anchor="middle" font-weight="normal" >Concentration of VC (μM)</text>
<text transform="translate(1458.6 927) rotate(-90)" font-size="36">Log<tspan font-size="27" dy="8">10</tspan><tspan dy="-8"> (CFU/mL)</tspan></text>
<path d="M1637.3 933V673.5H1904.6V715.3M1845.4 715.3H1963.2" stroke="#000" stroke-width="3" fill="none" stroke-linecap="round"/>
<path d="M1637.3 851H1750.8V889.5M1693.4 889.5H1807.9" stroke="#000" stroke-width="3" fill="none" stroke-linecap="round"/>
<text x="1770.2" y="661.2" font-size="22.5" text-anchor="middle" font-weight="normal" >P &lt; 0.0001</text>
<text x="1694.3" y="835.4" font-size="32" text-anchor="middle" font-weight="normal" >ns</text>
</g>
</svg>
</body></html>
